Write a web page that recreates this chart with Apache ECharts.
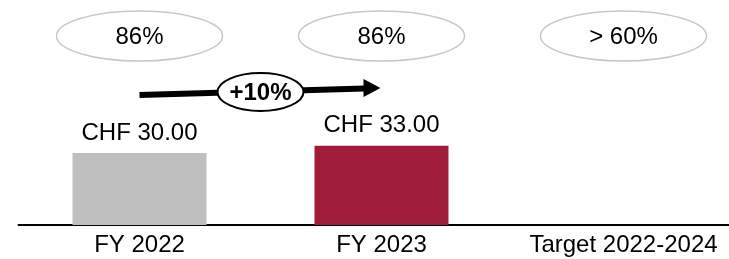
<!DOCTYPE html>
<html>
<head>
<meta charset="utf-8">
<script src="https://cdn.jsdelivr.net/npm/echarts@6/dist/echarts.min.js"></script>
<style>
    html, body { margin: 0; padding: 0; background: #fff; }
    #dividend_chart { width: 729px; height: 259px; }
</style>
</head>
<body>
<div id="dividend_chart"></div>
<script>
// Dividend per share by year, with payout ratio bubbles on top
var categories = ['FY 2022', 'FY 2023', 'Target 2022-2024'];
var dividends = [30, 33, '-'];
var payoutRatios = ['86%', '86%', '> 60%'];
var growthFrom = 0;
var growthTo = 1;
var growthLabel = '+10%';

var barColors = ['#bfbfbf', '#a11c38'];
var fontName = '"Liberation Sans", Arial, sans-serif';

function GraphBind() {
    var chart = document.getElementById('dividend_chart');
    var myChart = echarts.init(chart);

    var options = {
        animation: false,

        // Setup grid (last category runs past the right edge, like the original)
        grid: {
            left: 18.5,
            right: -15.5,
            top: 105,
            bottom: 34,
            containLabel: false,
            outerBoundsMode: 'none'
        },

        // Horizontal axis
        xAxis: [{
            type: 'category',
            data: categories,
            axisLine: { lineStyle: { color: '#000', width: 2 } },
            axisTick: { show: false },
            axisLabel: {
                interval: 0,
                hideOverlap: false,
                color: '#000',
                fontSize: 24,
                fontFamily: fontName,
                margin: 8
            }
        }],

        // Vertical axis (hidden)
        yAxis: [{
            type: 'value',
            min: 0,
            max: 50,
            show: false
        }],

        series: [
            {
                name: 'Dividend',
                type: 'bar',
                barWidth: 134,
                data: dividends,
                itemStyle: {
                    color: function (p) { return barColors[p.dataIndex]; }
                },
                label: {
                    show: true,
                    position: 'top',
                    distance: 8,
                    color: '#000',
                    fontSize: 24,
                    fontFamily: fontName,
                    formatter: function (p) { return 'CHF ' + Number(p.value).toFixed(2); }
                }
            },
            {
                // payout ratio ellipses above each category
                name: 'Payout',
                type: 'custom',
                data: categories.map(function (c, i) { return [i, 0]; }),
                renderItem: function (params, api) {
                    var x = api.coord([api.value(0), 0])[0];
                    return {
                        type: 'group',
                        children: [
                            {
                                type: 'ellipse',
                                shape: { cx: x, cy: 36, rx: 83, ry: 25 },
                                style: { fill: '#fff', stroke: '#c8c8c8', lineWidth: 1.5 }
                            },
                            {
                                type: 'text',
                                style: {
                                    x: x, y: 37,
                                    text: payoutRatios[params.dataIndex],
                                    fill: '#000',
                                    font: '24px ' + fontName,
                                    align: 'center',
                                    verticalAlign: 'middle'
                                }
                            }
                        ]
                    };
                }
            },
            {
                // growth arrow between the two years
                name: 'Growth',
                type: 'custom',
                data: [[growthFrom, growthTo]],
                renderItem: function (params, api) {
                    var x0 = api.coord([growthFrom, 0])[0];
                    var x1 = api.coord([growthTo, 0])[0];
                    var xm = (x0 + x1) / 2;
                    return {
                        type: 'group',
                        children: [
                            {
                                type: 'line',
                                shape: { x1: x0, y1: 95, x2: x1 - 17, y2: 88.5 },
                                style: { stroke: '#000', lineWidth: 6 }
                            },
                            {
                                type: 'polygon',
                                shape: { points: [[x1 - 18, 79], [x1 - 1, 88], [x1 - 18, 97]] },
                                style: { fill: '#000' }
                            },
                            {
                                type: 'ellipse',
                                shape: { cx: xm, cy: 92, rx: 43, ry: 19 },
                                style: { fill: '#fff', stroke: '#000', lineWidth: 2 }
                            },
                            {
                                type: 'text',
                                style: {
                                    x: xm, y: 93,
                                    text: growthLabel,
                                    fill: '#000',
                                    font: 'bold 24px ' + fontName,
                                    align: 'center',
                                    verticalAlign: 'middle'
                                }
                            }
                        ]
                    };
                }
            }
        ]
    };
    myChart.setOption(options);
}

GraphBind();
</script>
</body>
</html>
